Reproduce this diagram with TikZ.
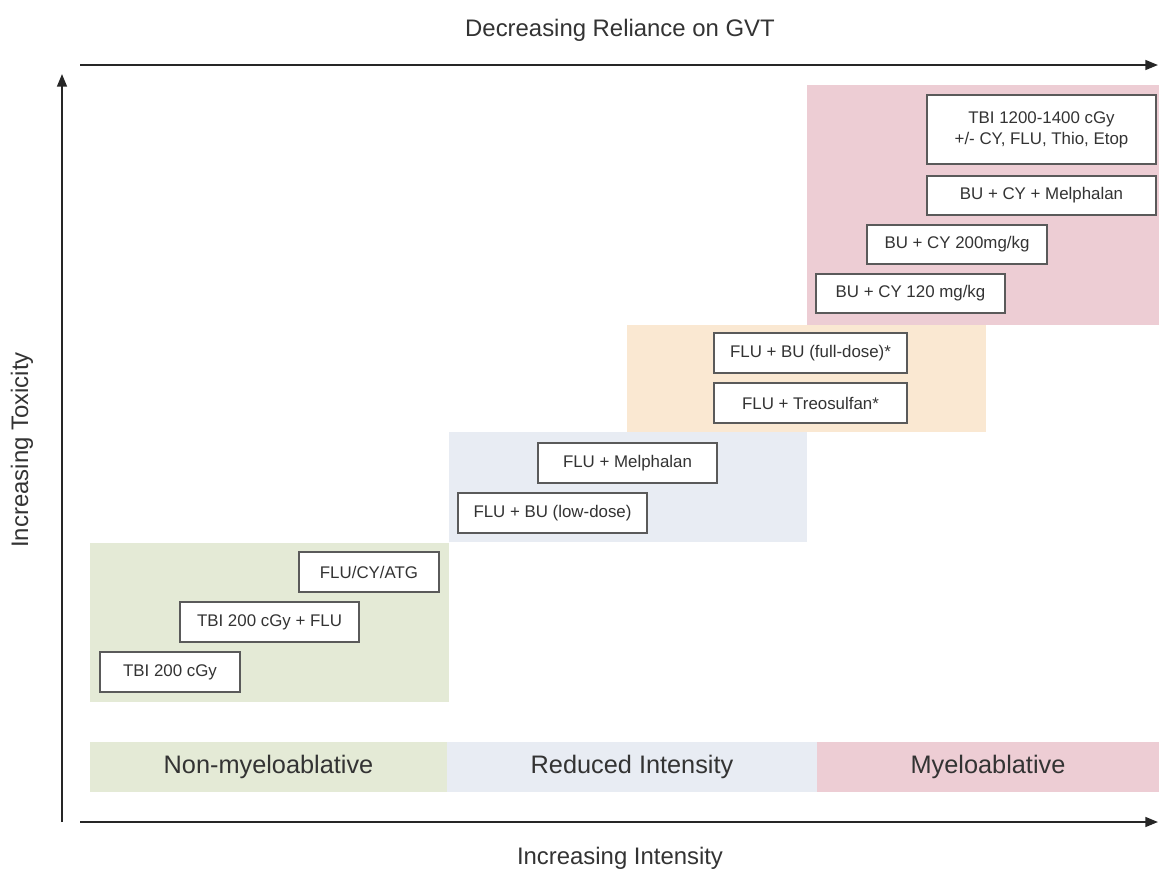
\documentclass[tikz,border=0pt]{standalone}
\usepackage{fontspec}
\setmainfont{Liberation Sans}
\usetikzlibrary{arrows.meta}
\definecolor{nmaGreen}{HTML}{E4EAD6}
\definecolor{ricBlue}{HTML}{E8ECF3}
\definecolor{fullOrange}{HTML}{FAE8D2}
\definecolor{maPink}{HTML}{EDCDD4}
\definecolor{boxGray}{HTML}{5A5A5A}
\definecolor{textGray}{HTML}{333333}

\begin{document}
\begin{tikzpicture}
[x=0.025cm,y=-0.025cm,%
  regimenBox/.style={draw=boxGray,line width=1pt,fill=white,text=textGray,inner sep=0pt,align=center,font=\fontsize{12}{15}\selectfont},%
  bandLabel/.style={inner sep=0pt,minimum height=1.25cm,text=textGray,font=\fontsize{18}{20}\selectfont},%
  axisLabel/.style={text=textGray,font=\fontsize{17}{20}\selectfont},%
  axisArrow/.style={-{Triangle[length=9pt,width=7pt]},line width=1.4pt,draw=black!85}]
\useasboundingbox (0,0) rectangle (1159,870);
%% shaded regions
\foreach \col/\xa/\ya/\xb/\yb in {nmaGreen/90/543/449/702, ricBlue/449/432/807/542, fullOrange/627/325/986/432, maPink/807/85/1159/325}
{
  \fill[\col] (\xa,\ya) rectangle (\xb,\yb);
}
%% regimen boxes
\foreach \name/\x/\y/\w/\h/\txt in {tbiHigh/1041.5/129.5/229/69/{TBI 1200-1400 cGy\\+/- CY, FLU, Thio, Etop},
  buCyMel/1041.5/195.5/229/39/{BU + CY + Melphalan}, buCyTwo/957/244.5/180/39/{BU + CY 200mg/kg},
  buCyOne/910.5/293.5/189/39/{BU + CY 120 mg/kg}, fluBuFull/810.5/353/193/40/{FLU + BU (full-dose)*},
  fluTreo/810.5/403/193/40/{FLU + Treosulfan*}, fluMel/627.5/463/179/40/{FLU + Melphalan},
  fluBuLow/552.5/513/189/40/{FLU + BU (low-dose)}, fluCyAtg/369/572/140/40/{FLU/CY/ATG},
  tbiFlu/269.5/622/179/40/{TBI 200 cGy + FLU}, tbiLow/170/672/140/40/{TBI 200 cGy}}
{
  \node (\name) at (\x,\y) [regimenBox,minimum width=\w*0.025cm,minimum height=\h*0.025cm] {\txt};
}
%% intensity bands
\foreach \name/\col/\x/\w/\txt in {nonMyelo/nmaGreen/268.5/357/Non-myeloablative, redInt/ricBlue/632/370/Reduced Intensity, myelo/maPink/988/342/Myeloablative}
{
  \node (\name) at (\x,767) [bandLabel,fill=\col,minimum width=\w*0.025cm] {\txt};
}
%% axes
\coordinate (topStart) at (80,65);
\coordinate (topEnd) at (1158,65);
\coordinate (botStart) at (80,822);
\coordinate (botEnd) at (1158,822);
\coordinate (leftStart) at (62,822);
\coordinate (leftEnd) at (62,74);
\draw[axisArrow] (topStart) -- (topEnd);
\draw[axisArrow] (botStart) -- (botEnd);
\draw[axisArrow] (leftStart) -- (leftEnd);
\node (gvtLabel) at (620,30) [axisLabel] {Decreasing Reliance on GVT};
\node (intLabel) at (620,858) [axisLabel] {Increasing Intensity};
\node (toxLabel) at (22,450) [axisLabel,rotate=90] {Increasing Toxicity};
\end{tikzpicture}
\end{document}
